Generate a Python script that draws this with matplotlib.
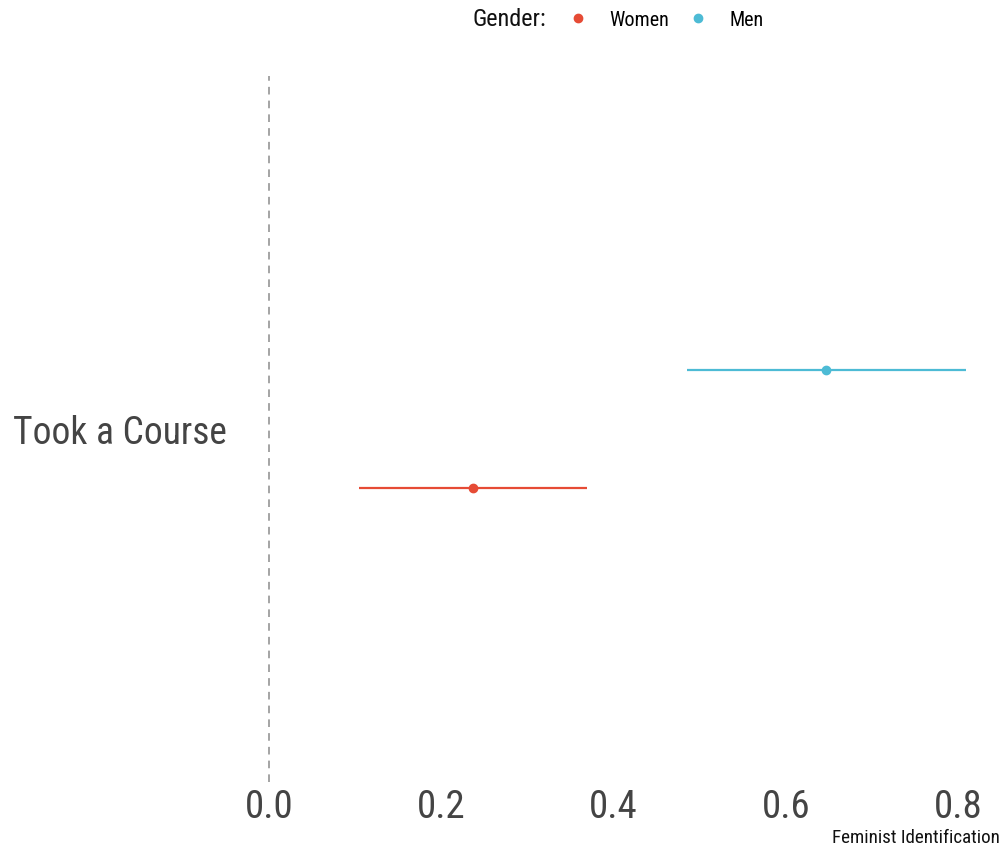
import matplotlib
matplotlib.use('Agg')
import matplotlib.pyplot as plt
from matplotlib.lines import Line2D

plt.rcParams['font.family'] = ['Roboto Condensed', 'Liberation Sans Narrow', 'Roboto', 'DejaVu Sans']

# data
category = 'Took a Course'
genders = ['Women', 'Men']
estimate = [0.237, 0.647]
lower = [0.105, 0.485]
upper = [0.369, 0.809]
xticks = [0.0, 0.2, 0.4, 0.6, 0.8]

colors = {'Women': '#E64B35', 'Men': '#4DBBD5'}
offsets = {'Women': -0.1, 'Men': 0.1}

fig = plt.figure(figsize=(10.08, 8.49), dpi=100)
ax = fig.add_axes([234/1008, 67/849, 767/1008, 706/849])

ax.axvline(0, color='#8c8c8c', lw=1.1, dashes=(5, 4), zorder=1)

for g, est, lo, hi in zip(genders, estimate, lower, upper):
    y = 1 + offsets[g]
    ax.hlines(y, lo, hi, color=colors[g], lw=1.6, zorder=2)
    ax.plot(est, y, 'o', color=colors[g], ms=6, zorder=3)

ax.set_xlim(-0.0405, 0.8495)
ax.set_ylim(0.4, 1.6)
ax.set_xticks(xticks)
ax.set_xticklabels([f'{t:.1f}' for t in xticks])
ax.set_yticks([1])
ax.set_yticklabels([category])
ax.tick_params(axis='x', length=0, pad=5, labelsize=28, labelcolor='#444444')
ax.tick_params(axis='y', length=0, pad=5, labelsize=27, labelcolor='#444444')
for s in ax.spines.values():
    s.set_visible(False)

fig.text(1000/1008, 6/849, 'Feminist Identification', ha='right', va='baseline',
         fontsize=13.7, color='#111111')

# legend
fig.text(472/1008, 1 - 20/849, 'Gender:', ha='left', va='center', fontsize=17.5, color='#111111')
handles = [Line2D([], [], ls='none', marker='o', ms=6, color=colors[g]) for g in genders]
fig.legend(handles, genders, ncol=2, loc='center left', frameon=False,
           bbox_to_anchor=(566/1008, 1 - 20/849), fontsize=14.5, handlelength=1.2,
           handletextpad=0.95, columnspacing=0.85, borderaxespad=0, borderpad=0)

fig.savefig('out.png', dpi=100, facecolor='white')
